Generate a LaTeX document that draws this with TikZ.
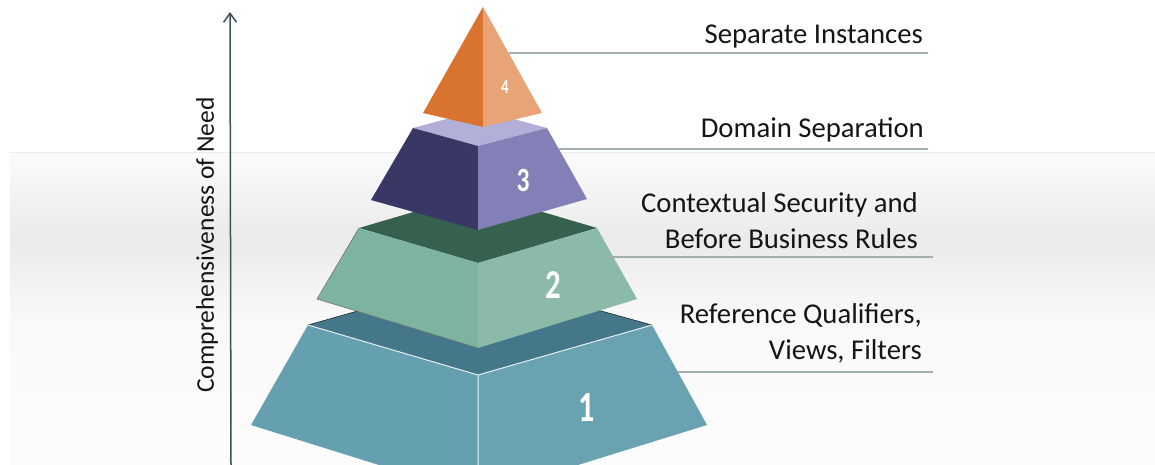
\documentclass[tikz,border=0pt]{standalone}
\usepackage{fontspec}
\setmainfont{Carlito}
\usepackage{graphicx}
\usepackage{tikz}
\usetikzlibrary{positioning,arrows.meta}

\definecolor{OrangeDark}{HTML}{D97430}
\definecolor{OrangeLight}{HTML}{E8A477}
\definecolor{PurpleTop}{HTML}{B2B0D8}
\definecolor{PurpleDark}{HTML}{383766}
\definecolor{PurpleMid}{HTML}{8380B8}
\definecolor{GreenTop}{HTML}{36614F}
\definecolor{GreenLeft}{HTML}{7CB4A0}
\definecolor{GreenRight}{HTML}{8BBAA8}
\definecolor{TealTop}{HTML}{44778A}
\definecolor{TealFace}{HTML}{64A0B0}
\definecolor{LeaderGray}{HTML}{A3AEB1}
\definecolor{AxisSlate}{HTML}{3A5055}
\definecolor{TextDark}{HTML}{151515}

\newcommand{\narrowdigit}[1]{\scalebox{0.75}[1]{#1}}

\begin{document}
\begin{tikzpicture}[
x=1pt, y=-1pt,
face/.style={line join=round},
level/.style={inner sep=0pt, align=right, anchor=base east, text=TextDark, font=\fontsize{28.7}{36}\selectfont},
num/.style={inner sep=0pt, text=white, font=\bfseries\fontsize{#1}{#1}\selectfont},
leader/.style={line width=1.5pt, LeaderGray},
axis/.style={-{Straight Barb[length=9pt,width=13pt]}, line width=1.5pt, AxisSlate}
]
\useasboundingbox (0,0) rectangle (1155,465);
\fill[white] (0,0) rectangle (1155,465);
\shade[top color=gray!3, bottom color=gray!16] (10,153) rectangle (1155,238);
\shade[top color=gray!16, bottom color=gray!5] (10,238) rectangle (1155,320);
\shade[top color=gray!5, bottom color=gray!2] (10,320) rectangle (1155,465);
\draw[gray!15, line width=1pt] (10,153) -- (1155,153);

\draw[face, fill=TealTop] (308,325) -- (478,277) -- (652,325) -- (478,375) -- cycle;
\fill[face, TealFace] (308,325) -- (478,375) -- (478,496) -- (251,425) -- cycle;
\fill[face, TealFace!97!white] (478,375) -- (652,325) -- (707,425) -- (478,496) -- cycle;
\draw[white!85!TealFace, line width=1pt] (308,325) -- (478,375) -- (652,325) (478,375) -- (478,496);
\node[num=43] (n1) at (587,408) {\narrowdigit{1}};

\fill[face, GreenTop] (359,228) -- (478,193) -- (597,228) -- (478,263) -- cycle;
\fill[face, GreenLeft] (359,228) -- (478,263) -- (478,348) -- (317,299) -- cycle;
\fill[face, GreenRight] (478,263) -- (597,228) -- (637,299) -- (478,348) -- cycle;
\draw[black!55, line width=0.6pt] (359,228) -- (317,299) -- (478,348);
\node[num=41] (n2) at (553,285) {\narrowdigit{2}};

\fill[face, PurpleTop] (413,128) -- (480,110) -- (547,128) -- (478,146) -- cycle;
\fill[face, PurpleDark] (413,128) -- (478,146) -- (478,230) -- (371,200) -- cycle;
\fill[face, PurpleMid] (478,146) -- (547,128) -- (587,199) -- (478,230) -- cycle;
\node[num=34] (n3) at (523,180) {\narrowdigit{3}};

\fill[face, OrangeDark] (483,7) -- (423,113) -- (483,127) -- cycle;
\fill[face, OrangeLight] (483,7) -- (483,127) -- (542,113) -- cycle;
\node[num=20] (n4) at (505,87) {\narrowdigit{4}};

\coordinate (p4) at (509,53);
\coordinate (e4) at (928,53);
\coordinate (p3) at (559,149);
\coordinate (e3) at (928,149);
\coordinate (p2) at (608,257);
\coordinate (e2) at (933,257);
\coordinate (p1) at (678,372);
\coordinate (e1) at (933,372);
\draw[leader] (p4) -- (e4);
\draw[leader] (p3) -- (e3);
\draw[leader] (p2) -- (e2);
\draw[leader] (p1) -- (e1);

\node[level] (lbl4) at (923,44) {Separate Instances};
\node[level] (lbl3) at (924,138) {Domain Separation};
\node[level] (lbl2) at (918,248) {Contextual Security and\\Before Business Rules};
\node[level] (lbl1) at (922,359) {Reference Qualifiers,\\Views, Filters};

\coordinate (axbot) at (231,465);
\coordinate (axtop) at (230,12);
\draw[axis] (axbot) -- (axtop);
\node[rotate=90, inner sep=0pt, text=TextDark, font=\fontsize{25.5}{30}\selectfont] (axlabel) at (207,245) {Comprehensiveness of Need};
\end{tikzpicture}
\end{document}
